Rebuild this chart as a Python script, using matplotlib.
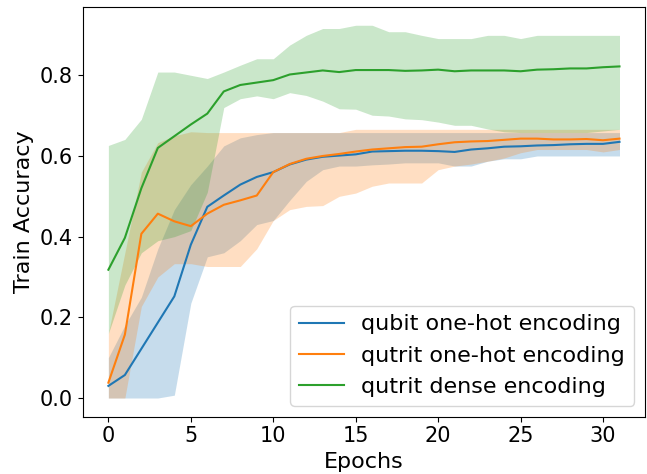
import numpy as np
import matplotlib
matplotlib.use("Agg")
import matplotlib.pyplot as plt

plt.rcParams['font.size'] = 16
plt.rcParams['xtick.labelsize'] = 15
plt.rcParams['ytick.labelsize'] = 15

epochs = np.arange(32)

# qubit one-hot encoding
qubit_mean = [0.030, 0.057, 0.122, 0.187, 0.252, 0.38, 0.474, 0.502, 0.529, 0.548,
              0.560, 0.579, 0.591, 0.598, 0.601, 0.604, 0.611, 0.612, 0.613, 0.613,
              0.612, 0.610, 0.616, 0.619, 0.623, 0.624, 0.626, 0.627, 0.629, 0.630,
              0.630, 0.635]
qubit_low = [0.0, 0.0, 0.0, 0.0, 0.007, 0.235, 0.35, 0.36, 0.39, 0.43,
             0.44, 0.49, 0.537, 0.566, 0.575, 0.575, 0.578, 0.58, 0.583, 0.583,
             0.583, 0.575, 0.575, 0.587, 0.593, 0.593, 0.60, 0.60, 0.60, 0.60,
             0.60, 0.60]
qubit_high = [0.10, 0.18, 0.25, 0.37, 0.467, 0.529, 0.575, 0.625, 0.645, 0.653,
              0.658, 0.658, 0.658, 0.658, 0.658, 0.658, 0.658, 0.658, 0.658, 0.658,
              0.658, 0.658, 0.658, 0.658, 0.658, 0.658, 0.658, 0.658, 0.658, 0.658,
              0.658, 0.658]

# qutrit one-hot encoding
onehot_mean = [0.038, 0.157, 0.407, 0.457, 0.438, 0.426, 0.457, 0.479, 0.490, 0.502,
               0.560, 0.580, 0.593, 0.600, 0.605, 0.611, 0.616, 0.619, 0.622, 0.623,
               0.629, 0.634, 0.636, 0.637, 0.640, 0.643, 0.643, 0.641, 0.641, 0.642,
               0.639, 0.643]
onehot_low = [0.0, 0.0, 0.227, 0.30, 0.333, 0.333, 0.326, 0.326, 0.326, 0.37,
              0.44, 0.467, 0.475, 0.477, 0.50, 0.508, 0.525, 0.533, 0.533, 0.533,
              0.566, 0.575, 0.58, 0.587, 0.595, 0.608, 0.616, 0.616, 0.616, 0.616,
              0.61, 0.616]
onehot_high = [0.16, 0.36, 0.56, 0.633, 0.65, 0.66, 0.658, 0.658, 0.658, 0.658,
               0.658, 0.658, 0.658, 0.658, 0.658, 0.666, 0.666, 0.666, 0.666, 0.666,
               0.666, 0.666, 0.666, 0.666, 0.666, 0.666, 0.666, 0.666, 0.666, 0.666,
               0.666, 0.666]

# qutrit dense encoding
dense_mean = [0.318, 0.397, 0.52, 0.620, 0.649, 0.678, 0.705, 0.760, 0.776, 0.782,
              0.788, 0.802, 0.807, 0.812, 0.808, 0.813, 0.813, 0.813, 0.811, 0.812,
              0.814, 0.810, 0.812, 0.812, 0.812, 0.810, 0.814, 0.815, 0.817, 0.817,
              0.820, 0.822]
dense_low = [0.16, 0.28, 0.36, 0.39, 0.40, 0.415, 0.51, 0.72, 0.742, 0.749,
             0.742, 0.757, 0.750, 0.736, 0.717, 0.716, 0.701, 0.699, 0.692, 0.690,
             0.684, 0.676, 0.676, 0.667, 0.66, 0.658, 0.658, 0.658, 0.658, 0.658,
             0.662, 0.666]
dense_high = [0.626, 0.641, 0.691, 0.808, 0.808, 0.800, 0.792, 0.808, 0.825, 0.841,
              0.841, 0.875, 0.899, 0.916, 0.916, 0.924, 0.924, 0.908, 0.908, 0.899,
              0.891, 0.891, 0.891, 0.899, 0.899, 0.891, 0.899, 0.899, 0.899, 0.899,
              0.899, 0.899]

labels = ['qubit one-hot encoding', 'qutrit one-hot encoding', 'qutrit dense encoding']
colors = ['tab:blue', 'tab:orange', 'tab:green']
means = [qubit_mean, onehot_mean, dense_mean]
lows = [qubit_low, onehot_low, dense_low]
highs = [qubit_high, onehot_high, dense_high]

fig, ax = plt.subplots(figsize=(6.47, 4.74), dpi=100)
fig.subplots_adjust(left=0.128, right=0.997, top=0.986, bottom=0.121)

for lo, hi, c in zip(lows, highs, colors):
    ax.fill_between(epochs, lo, hi, color=c, alpha=0.25, linewidth=0)
for m, c, lab in zip(means, colors, labels):
    ax.plot(epochs, m, color=c, label=lab)

ax.set_xlabel('Epochs')
ax.set_ylabel('Train Accuracy')
ax.legend(loc='lower right')

fig.savefig('out.png')
